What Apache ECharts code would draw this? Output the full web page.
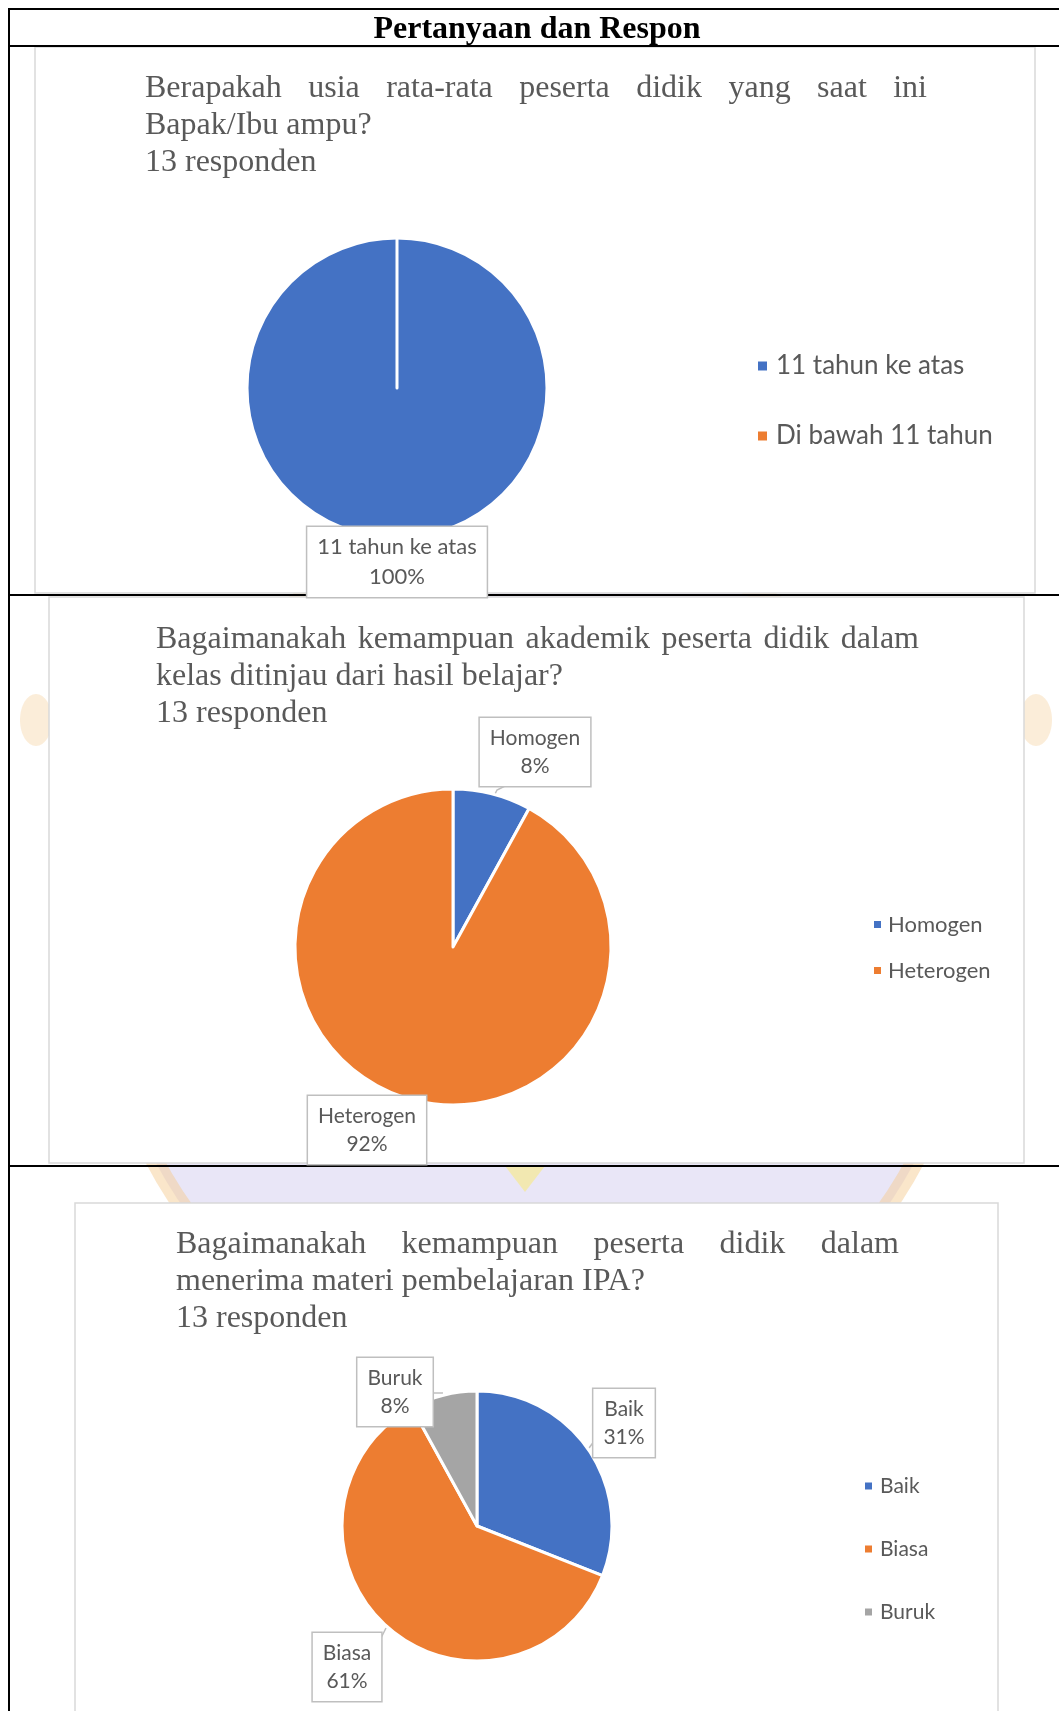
<!DOCTYPE html>
<html>
<head>
<meta charset="utf-8">
<script src="https://cdn.jsdelivr.net/npm/echarts@6/dist/echarts.min.js"></script>
<style>
html,body{margin:0;padding:0;background:#fff;}
#chart{width:1059px;height:1711px;}
</style>
</head>
<body>
<div id="chart"></div>
<script>
// ---------- DATA ----------
const headerTitle = 'Pertanyaan dan Respon';
const respondentsText = '13 responden';

const q1Title = ['Berapakah usia rata-rata peserta didik yang saat ini', 'Bapak/Ibu ampu?'];
const q1Names = ['11 tahun ke atas', 'Di bawah 11 tahun'];
const q1Values = [100, 0];

const q2Title = ['Bagaimanakah kemampuan akademik peserta didik dalam', 'kelas ditinjau dari hasil belajar?'];
const q2Names = ['Homogen', 'Heterogen'];
const q2Values = [8, 92];

const q3Title = ['Bagaimanakah kemampuan peserta didik dalam', 'menerima materi pembelajaran IPA?'];
const q3Names = ['Baik', 'Biasa', 'Buruk'];
const q3Values = [31, 61, 8];

const sliceColors = ['#4472C4', '#ED7D31', '#A5A5A5'];

// ---------- HELPERS ----------
const TITLE_FONT = '32px "Liberation Serif"';
const TEXT_GREY = '#595959';
const measureCtx = document.createElement('canvas').getContext('2d');
function textW(t, font) { measureCtx.font = font; return measureCtx.measureText(t).width; }

function titleLine(text, x0, y, x1) {
  if (!x1) {
    return [{ type: 'text', x: x0, y: y, z: 5,
      style: { text: text, font: TITLE_FONT, fill: TEXT_GREY, verticalAlign: 'middle', align: 'left' } }];
  }
  const words = text.split(' ');
  const ws = words.map(w => textW(w, TITLE_FONT));
  const total = ws.reduce((a, b) => a + b, 0);
  const gap = (x1 - x0 - total) / (words.length - 1);
  const els = [];
  let x = x0;
  words.forEach((w, i) => {
    els.push({ type: 'text', x: x, y: y, z: 5,
      style: { text: w, font: TITLE_FONT, fill: TEXT_GREY, verticalAlign: 'middle', align: 'left' } });
    x += ws[i] + gap;
  });
  return els;
}

function hline(x1, x2, y, w, c) {
  return { type: 'line', z: 3, shape: { x1: x1, y1: y, x2: x2, y2: y }, style: { stroke: c || '#000', lineWidth: w || 2 } };
}
function vline(x, y1, y2, w, c) {
  return { type: 'line', z: 3, shape: { x1: x, y1: y1, x2: x, y2: y2 }, style: { stroke: c || '#000', lineWidth: w || 2 } };
}
function box(x, y, w, h) {
  return { type: 'rect', z: 1, shape: { x: x, y: y, width: w, height: h },
    style: { fill: '#fff', stroke: '#d9d9d9', lineWidth: 1.5 } };
}

const graphics = [];
// faint watermark behind
graphics.push({ type: 'circle', z: -2, shape: { cx: 535, cy: 960, r: 430 },
  style: { fill: 'rgba(212,206,240,0.5)', stroke: 'rgba(245,205,150,0.5)', lineWidth: 18 } });
graphics.push({ type: 'polygon', z: -1, shape: { points: [[505, 1166], [545, 1166], [525, 1192]] },
  style: { fill: 'rgba(250,235,120,0.55)' } });
graphics.push({ type: 'ellipse', z: -2, shape: { cx: 36, cy: 720, rx: 16, ry: 26 },
  style: { fill: 'rgba(245,210,160,0.4)' } });
graphics.push({ type: 'ellipse', z: -2, shape: { cx: 1036, cy: 720, rx: 16, ry: 26 },
  style: { fill: 'rgba(245,210,160,0.4)' } });

// chart boxes
graphics.push(box(35, 47, 1000, 546));
graphics.push(box(49, 597, 975, 566));
graphics.push(box(75, 1203, 923, 530));

// table lines
graphics.push(hline(8, 1059, 9, 2));
graphics.push(hline(8, 1059, 46, 2));
graphics.push(hline(8, 1059, 595, 2));
graphics.push(hline(8, 1059, 1166, 2));
graphics.push(vline(9, 8, 1711, 2));

// header
graphics.push({ type: 'text', x: 537, y: 30, z: 5,
  style: { text: headerTitle, font: 'bold 32px "Liberation Serif"', fill: '#000', align: 'center', verticalAlign: 'middle' } });

// titles
graphics.push(...titleLine(q1Title[0], 145, 89, 927));
graphics.push(...titleLine(q1Title[1], 145, 126));
graphics.push(...titleLine(respondentsText, 145, 163));

graphics.push(...titleLine(q2Title[0], 156, 640, 919));
graphics.push(...titleLine(q2Title[1], 156, 677));
graphics.push(...titleLine(respondentsText, 156, 714));

graphics.push(...titleLine(q3Title[0], 176, 1245, 899));
graphics.push(...titleLine(q3Title[1], 176, 1282));
graphics.push(...titleLine(respondentsText, 176, 1319));

// ---------- SERIES ----------
const labelBase = {
  show: true,
  formatter: p => p.name + '\n' + Math.round(p.percent) + '%',
  fontFamily: 'Lato', fontSize: 21, lineHeight: 28, color: TEXT_GREY,
  backgroundColor: '#fff', borderColor: '#bfbfbf', borderWidth: 1.5,
  padding: [6, 10], align: 'center'
};

function mkData(names, values, hideIdx) {
  return names.map((n, i) => {
    const d = { name: n, value: values[i], itemStyle: { color: sliceColors[i] } };
    if (hideIdx && hideIdx.indexOf(i) >= 0) { d.label = { show: false }; d.labelLine = { show: false }; }
    return d;
  });
}

// label box placements (layout only)
const labelPos = {
  0: { 0: { x: 397, y: 562 } },
  1: { 0: { x: 535, y: 752, line: [[495, 794], [497, 790], [505, 786]] },
       1: { x: 367, y: 1130, line: [[413, 1092], [412, 1094], [410, 1096]] } },
  2: { 0: { x: 624, y: 1423, line: [[589, 1448], [592, 1444], [595, 1440]] },
       1: { x: 347, y: 1667, line: [[386, 1628], [384, 1632], [381, 1638]] },
       2: { x: 395, y: 1392, line: [[443, 1393], [438, 1393], [433, 1393]] } }
};
function layoutFn(params) {
  const p = labelPos[params.seriesIndex][params.dataIndex];
  if (!p) return {};
  const r = { x: p.x, y: p.y, align: 'center', verticalAlign: 'middle' };
  if (p.line) r.labelLinePoints = p.line;
  return r;
}

const pieCommon = {
  type: 'pie', startAngle: 90, clockwise: true, avoidLabelOverlap: false,
  silent: true, emphasis: { disabled: true },
  itemStyle: { borderColor: '#fff', borderWidth: 3 },
  label: labelBase,
  labelLine: { show: true, lineStyle: { color: '#bfbfbf', width: 1.5 } },
  labelLayout: layoutFn, z: 4
};

const option = {
  animation: false,
  graphic: graphics,
  legend: [
    { data: q1Names, orient: 'vertical', left: 756, top: 350, padding: 0, icon: 'rect',
      itemWidth: 11, itemHeight: 11, itemGap: 38, selectedMode: false,
      textStyle: { fontFamily: 'Lato', fontSize: 26, lineHeight: 32, color: TEXT_GREY, padding: [0, 0, 0, 3] } },
    { data: q2Names, orient: 'vertical', left: 872, top: 911, padding: 0, icon: 'rect',
      itemWidth: 9, itemHeight: 9, itemGap: 19, selectedMode: false,
      textStyle: { fontFamily: 'Lato', fontSize: 22, lineHeight: 27, color: TEXT_GREY, padding: [0, 0, 0, 1] } },
    { data: q3Names, orient: 'vertical', left: 863, top: 1473, padding: 0, icon: 'rect',
      itemWidth: 9, itemHeight: 9, itemGap: 37, selectedMode: false,
      textStyle: { fontFamily: 'Lato', fontSize: 21, lineHeight: 26, color: TEXT_GREY, padding: [0, 0, 0, 2] } }
  ],
  series: [
    Object.assign({}, pieCommon, { name: 'q1', center: [397, 388], radius: 150,
      data: mkData(q1Names, q1Values, [1]), labelLine: { show: false },
      label: Object.assign({}, labelBase, { fontSize: 22, lineHeight: 30, padding: [5, 10] }) }),
    Object.assign({}, pieCommon, { name: 'q2', center: [453, 947], radius: 158,
      data: mkData(q2Names, q2Values) }),
    Object.assign({}, pieCommon, { name: 'q3', center: [477, 1526], radius: 135,
      data: mkData(q3Names, q3Values) })
  ]
};

const chart = echarts.init(document.getElementById('chart'), null, { renderer: 'canvas' });
chart.setOption(option);
</script>
</body>
</html>
